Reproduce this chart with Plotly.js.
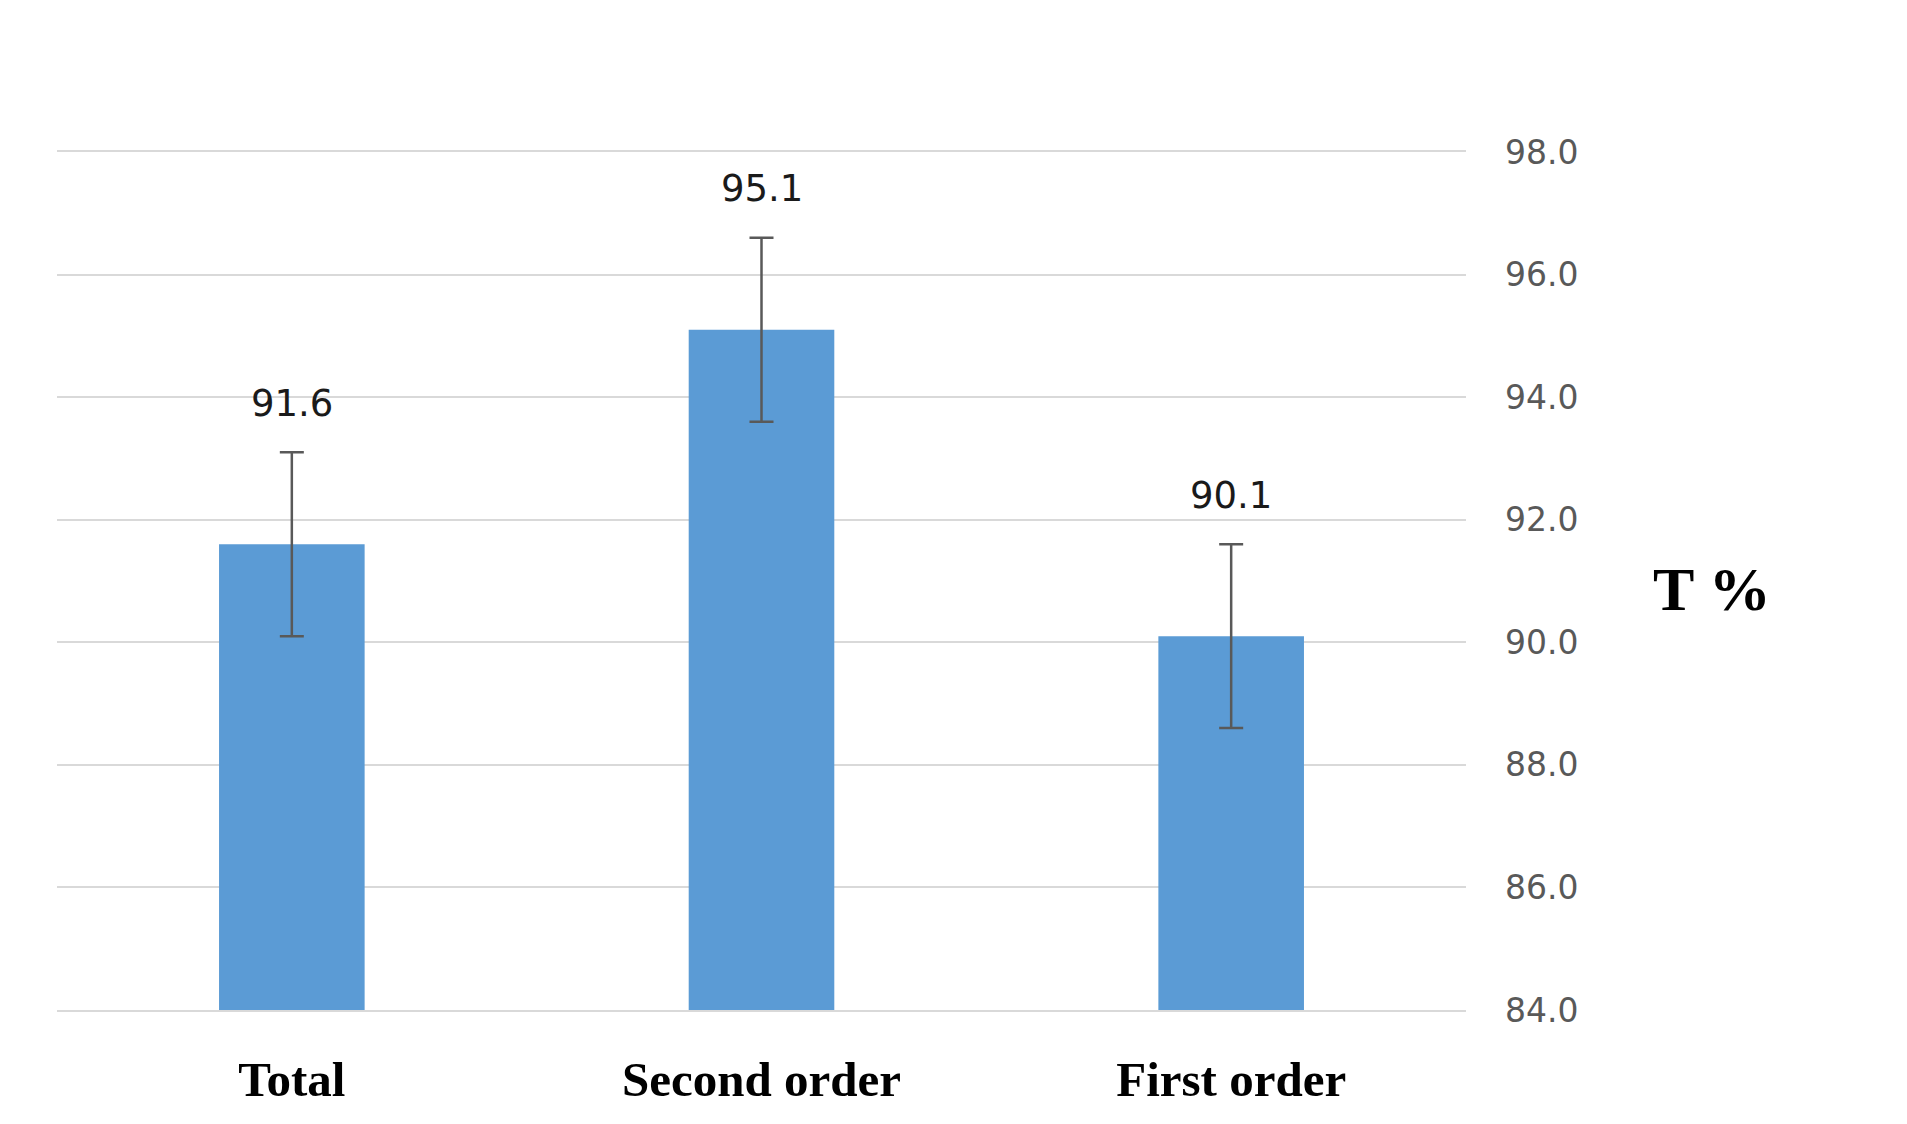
<!DOCTYPE html>
<html>
<head>
<meta charset="utf-8">
<script src="https://cdn.plot.ly/plotly-3.0.1.min.js"></script>
<style>html,body{margin:0;padding:0;background:#fff;}#chart{width:1907px;height:1124px;}</style>
</head>
<body>
<div id="chart"></div>
<script>
const categories = ["Total", "Second order", "First order"];
const values = [91.6, 95.1, 90.1];
const errors = [1.5, 1.5, 1.5];
const yTicks = [84, 86, 88, 90, 92, 94, 96, 98];
const axisTitle = "T %";

const trace = {
  type: 'bar',
  x: categories,
  y: values,
  marker: {color: '#5b9bd5'},
  error_y: {type: 'data', array: errors, visible: true, color: '#595959', thickness: 2.5, width: 12},
  hoverinfo: 'none'
};

const annotations = categories.map((c, i) => ({
  x: c, y: values[i], xref: 'x', yref: 'y',
  text: values[i].toFixed(1), showarrow: false,
  yshift: 141, yanchor: 'middle',
  font: {family: 'DejaVu Sans', size: 37, color: '#1a1a1a'}
}));
annotations.push({
  xref: 'paper', yref: 'paper', x: 1.1746, y: 0.4907,
  text: '<b>' + axisTitle + '</b>', showarrow: false,
  xanchor: 'center', yanchor: 'middle',
  font: {family: 'Liberation Serif', size: 62, color: '#000'}
});

const layout = {
  width: 1907, height: 1124,
  margin: {l: 57, r: 441, t: 152, b: 114},
  paper_bgcolor: '#fff', plot_bgcolor: '#fff',
  showlegend: false,
  bargap: 0.69,
  xaxis: {
    type: 'category', showgrid: false, zeroline: false,
    showline: true, mirror: true, linecolor: '#d9d9d9', linewidth: 2,
    ticks: '', ticklabelstandoff: 25,
    tickfont: {family: 'Liberation Serif', size: 49, color: '#000', weight: 'bold'}
  },
  yaxis: {
    side: 'right', range: [84, 98], tickvals: yTicks, tickformat: '.1f',
    showgrid: true, gridcolor: '#d9d9d9', gridwidth: 2, zeroline: false, showline: false,
    ticks: '', ticklabelstandoff: 38,
    tickfont: {family: 'DejaVu Sans', size: 33, color: '#595959'}
  },
  annotations: annotations
};

Plotly.newPlot('chart', [trace], layout, {displayModeBar: false, staticPlot: true});
</script>
</body>
</html>
